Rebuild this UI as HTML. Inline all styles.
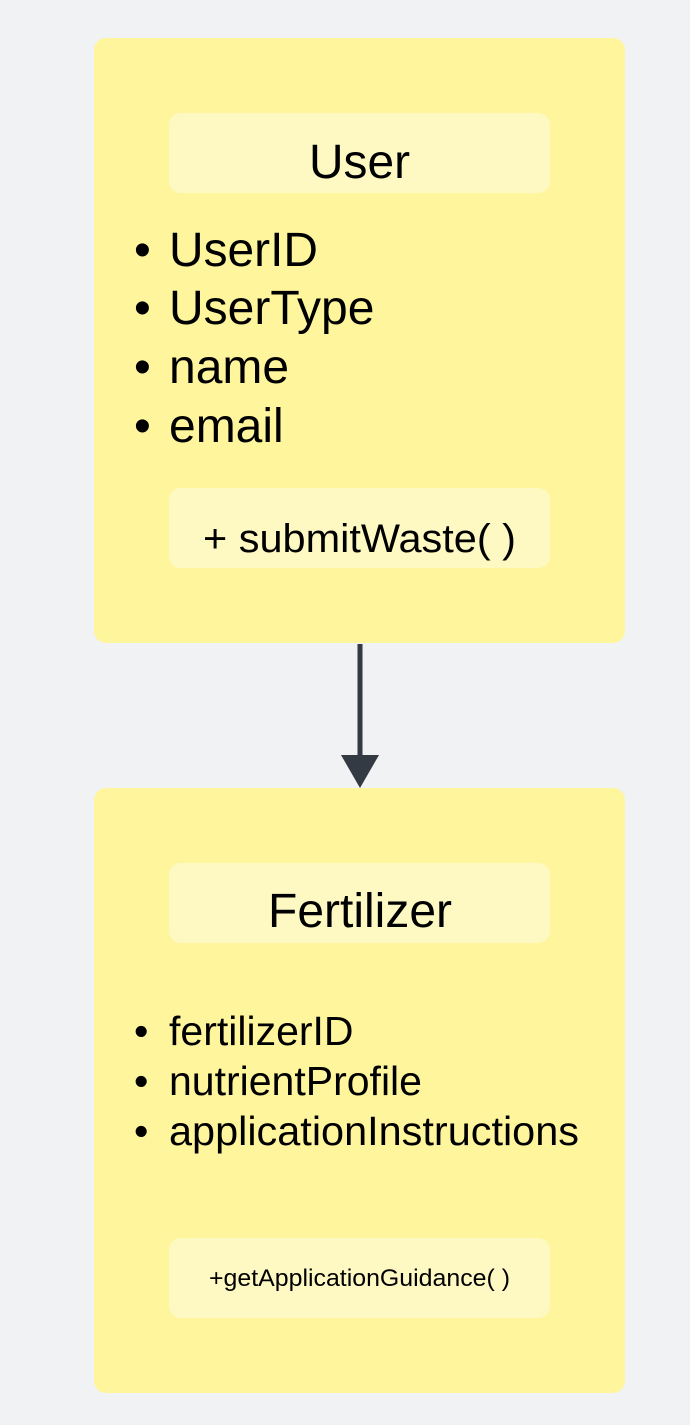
<!DOCTYPE html>
<html><head><meta charset="utf-8"><style>
html,body{margin:0;padding:0;background:#f1f2f4;}
svg{display:block}
text{font-family:"Liberation Sans",sans-serif;fill:#000}
</style></head><body>
<svg width="690" height="1425" viewBox="0 0 690 1425">
<rect x="0" y="0" width="690" height="1425" fill="#f1f2f4"/>
<rect x="94" y="38" width="531" height="605" rx="12" fill="#fff59d"/>
<rect x="169" y="113" width="381" height="80" rx="12" fill="#fef9c3"/>
<text x="309" y="178" font-size="48" textLength="101" lengthAdjust="spacingAndGlyphs">User</text>
<g font-size="48">
<text x="134" y="266">•</text><text x="169" y="266" textLength="149" lengthAdjust="spacingAndGlyphs">UserID</text>
<text x="134" y="324">•</text><text x="169" y="324">UserType</text>
<text x="134" y="383">•</text><text x="169" y="383">name</text>
<text x="134" y="442">•</text><text x="169" y="442">email</text>
</g>
<rect x="169" y="488" width="381" height="80" rx="12" fill="#fef9c3"/>
<text x="203" y="552" font-size="40" textLength="313" lengthAdjust="spacingAndGlyphs">+ submitWaste( )</text>

<line x1="360" y1="644" x2="360" y2="758" stroke="#343a44" stroke-width="5"/>
<polygon points="341,755 379,755 360,788" fill="#343a44"/>

<rect x="94" y="788" width="531" height="605" rx="12" fill="#fff59d"/>
<rect x="169" y="863" width="381" height="80" rx="12" fill="#fef9c3"/>
<text x="268" y="927" font-size="48" textLength="184" lengthAdjust="spacingAndGlyphs">Fertilizer</text>
<g font-size="41">
<text x="134" y="1045">•</text><text x="169" y="1045">fertilizerID</text>
<text x="134" y="1095">•</text><text x="169" y="1095">nutrientProfile</text>
<text x="134" y="1145">•</text><text x="169" y="1145" textLength="410" lengthAdjust="spacingAndGlyphs">applicationInstructions</text>
</g>
<rect x="169" y="1238" width="381" height="80" rx="12" fill="#fef9c3"/>
<text x="209" y="1286" font-size="24" textLength="301" lengthAdjust="spacingAndGlyphs">+getApplicationGuidance( )</text>
</svg>
</body></html>
